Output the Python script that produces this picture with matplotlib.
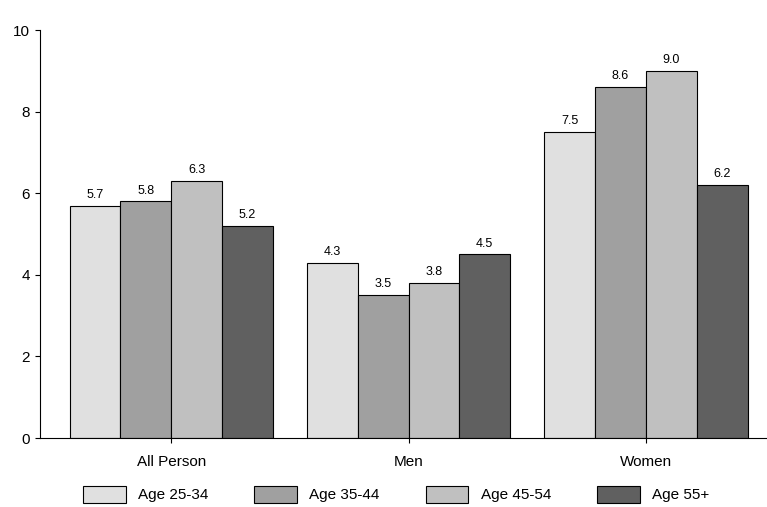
import matplotlib
matplotlib.use("Agg")
import matplotlib.pyplot as plt
import numpy as np

plt.rcParams['font.family'] = ['Liberation Sans', 'DejaVu Sans']

categories = ["All Person", "Men", "Women"]
series = ["Age 25-34", "Age 35-44", "Age 45-54", "Age 55+"]
values = [[5.7, 4.3, 7.5], [5.8, 3.5, 8.6], [6.3, 3.8, 9.0], [5.2, 4.5, 6.2]]
colors = ["#e0e0e0", "#a0a0a0", "#c0c0c0", "#606060"]

fig = plt.figure(figsize=(7.67, 5.07), dpi=100)
ax = fig.add_axes([0.052, 0.136, 0.948, 0.844])
x = np.arange(len(categories))
w = 0.214
for i, (s, v, c) in enumerate(zip(series, values, colors)):
    pos = x + (i - 1.5) * w
    ax.bar(pos, v, w, color=c, edgecolor="black", linewidth=0.8, label=s)
    for p, val in zip(pos, v):
        ax.text(p, val + 0.12, f"{val:.1f}", ha="center", va="bottom", fontsize=9)
ax.set_xlim(-0.553, 2.51)
ax.set_ylim(0, 10.49)
ax.set_yticks([0, 2, 4, 6, 8, 10])
ax.set_xticks(x)
ax.set_xticklabels(categories, fontsize=11)
ax.tick_params(axis='x', pad=9)
ax.tick_params(axis='y', labelsize=11)
for sp in ["top", "right"]:
    ax.spines[sp].set_visible(False)
ax.spines['left'].set_bounds(0, 10)
ax.legend(loc="upper center", bbox_to_anchor=(0.49, -0.08), ncol=4, frameon=False,
          fontsize=11, handlelength=2.8, handleheight=1.3, handletextpad=0.8,
          columnspacing=3.0)
fig.savefig("out.png", dpi=100)
